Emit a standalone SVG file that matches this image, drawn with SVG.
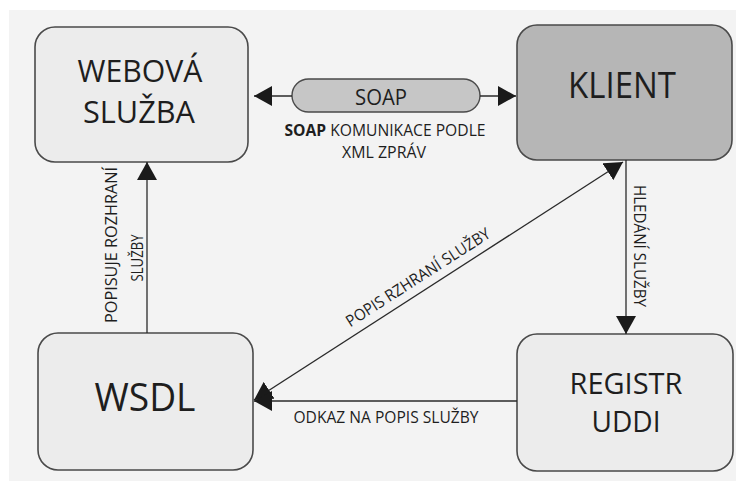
<svg xmlns="http://www.w3.org/2000/svg" width="736" height="483" viewBox="0 0 736 483">
<defs>
<marker id="ah" viewBox="0 0 18 20" refX="18" refY="10" markerWidth="18" markerHeight="20" markerUnits="userSpaceOnUse" orient="auto-start-reverse">
<path d="M0,0 L18,10 L0,20 Z" fill="#1a1a1a"/>
</marker>
</defs>
<style>
.box{fill:#ececec;stroke:#4a4a4a;stroke-width:1.6}
.dark{fill:#b6b6b6}
.t{font-family:"Open Sans","Liberation Sans",sans-serif;fill:#1e1e1e;text-anchor:middle}
.big{font-size:31px}
.lbl{font-size:16px}
.ln{stroke:#2a2a2a;stroke-width:1.3;fill:none}
</style>
<rect x="0" y="0" width="736" height="483" fill="#ffffff"/>
<rect x="9" y="10" width="727" height="471" fill="#f3f3f3"/>

<g id="webova">
<rect class="box" x="35" y="27" width="213" height="135" rx="20"/>
<text class="t big" x="140" y="82" textLength="125" lengthAdjust="spacingAndGlyphs">WEBOVÁ</text>
<text class="t big" x="139" y="123" textLength="112" lengthAdjust="spacingAndGlyphs">SLUŽBA</text>
</g>
<g id="klient">
<rect class="box dark" x="517" y="25" width="215" height="135" rx="20"/>
<text class="t" style="font-size:37px" x="622" y="98" textLength="108" lengthAdjust="spacingAndGlyphs">KLIENT</text>
</g>
<g id="wsdl">
<rect class="box" x="38" y="333" width="215" height="137" rx="20"/>
<text class="t" style="font-size:39px" x="145" y="411" textLength="101" lengthAdjust="spacingAndGlyphs">WSDL</text>
</g>
<g id="registr">
<rect class="box" x="517" y="334" width="216" height="137" rx="20"/>
<text class="t" style="font-size:29px" x="626" y="394" textLength="113" lengthAdjust="spacingAndGlyphs">REGISTR</text>
<text class="t" style="font-size:29px" x="626" y="432" textLength="69" lengthAdjust="spacingAndGlyphs">UDDI</text>
</g>
<g id="soap">
<rect x="292" y="79" width="188" height="33" rx="16.5" fill="#c6c6c6" stroke="#4a4a4a" stroke-width="1.4"/>
<text class="t" style="font-size:21px" x="381" y="105" textLength="52" lengthAdjust="spacingAndGlyphs">SOAP</text>
</g>

<g id="connectors">
<line class="ln" x1="292" y1="96" x2="254" y2="96" marker-end="url(#ah)"/>
<line class="ln" x1="480" y1="96" x2="516" y2="96" marker-end="url(#ah)"/>
<line class="ln" x1="147" y1="333" x2="147" y2="162" marker-end="url(#ah)"/>
<line class="ln" x1="626" y1="160" x2="626" y2="334" marker-end="url(#ah)"/>
<line class="ln" x1="254" y1="400" x2="623" y2="162" marker-start="url(#ah)" marker-end="url(#ah)"/>
<line class="ln" x1="517" y1="401" x2="254" y2="401" marker-end="url(#ah)"/>
</g>

<g id="labels">
<text class="t lbl" x="385" y="136" textLength="201" lengthAdjust="spacingAndGlyphs"><tspan font-weight="bold">SOAP</tspan> KOMUNIKACE PODLE</text>
<text class="t lbl" x="384" y="158" textLength="84" lengthAdjust="spacingAndGlyphs">XML ZPRÁV</text>
<text class="t lbl" transform="translate(117,245) rotate(-90)" textLength="156" lengthAdjust="spacingAndGlyphs">POPISUJE ROZHRANÍ</text>
<text class="t lbl" transform="translate(143,258) rotate(-90)" textLength="47" lengthAdjust="spacingAndGlyphs">SLUŽBY</text>
<text class="t lbl" transform="translate(634,246) rotate(90)" textLength="122" lengthAdjust="spacingAndGlyphs">HLEDÁNÍ SLUŽBY</text>
<text class="t lbl" transform="translate(421,282) rotate(-32.7)" textLength="168" lengthAdjust="spacingAndGlyphs">POPIS RZHRANÍ SLUŽBY</text>
<text class="t lbl" x="386" y="423" textLength="185" lengthAdjust="spacingAndGlyphs">ODKAZ NA POPIS SLUŽBY</text>
</g>
</svg>
